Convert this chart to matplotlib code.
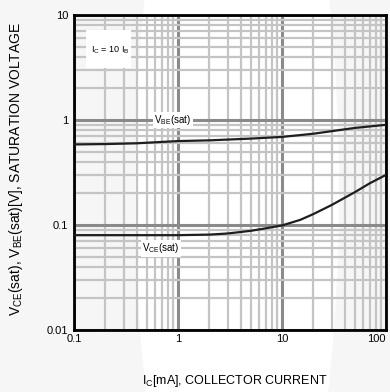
import matplotlib
matplotlib.use("Agg")
import matplotlib.pyplot as plt
from matplotlib.patches import Ellipse, Rectangle
from matplotlib.ticker import LogLocator, NullFormatter, FixedLocator, FixedFormatter

plt.rcParams['font.family'] = ['Liberation Sans', 'DejaVu Sans']
plt.rcParams['mathtext.default'] = 'regular'

# Collector current [mA] and saturation voltages [V]
ic_vbe = [0.1, 0.2, 0.4, 1, 2, 5, 10, 20, 50, 100]
vbe_sat = [0.585, 0.59, 0.60, 0.63, 0.64, 0.665, 0.69, 0.74, 0.84, 0.90]

ic_vce = [0.1, 0.5, 1, 2, 3, 5, 7, 10, 15, 20, 30, 50, 70, 100]
vce_sat = [0.080, 0.080, 0.080, 0.081, 0.083, 0.088, 0.093, 0.099, 0.112,
           0.127, 0.155, 0.205, 0.25, 0.30]

x_ticks = [0.1, 1, 10, 100]
x_labels = ["0.1", "1", "10", "100"]
y_ticks = [0.01, 0.1, 1, 10]
y_labels = ["0.01", "0.1", "1", "10"]

fig = plt.figure(figsize=(3.9, 3.92), dpi=100, facecolor="#f6f6f6")
fig.add_artist(Ellipse((0.6077, 0.5153), 0.523, 2.296, transform=fig.transFigure,
                       facecolor="white", edgecolor="none", zorder=-1))

ax = fig.add_axes([74/390, 1-330/392, 312/390, 315/392])
ax.set_facecolor("none")
ax.set_xscale("log")
ax.set_yscale("log")
ax.set_xlim(0.1, 100)
ax.set_ylim(0.01, 10)

ax.xaxis.set_major_locator(FixedLocator(x_ticks))
ax.xaxis.set_major_formatter(FixedFormatter(x_labels))
ax.yaxis.set_major_locator(FixedLocator(y_ticks))
ax.yaxis.set_major_formatter(FixedFormatter(y_labels))
ax.xaxis.set_minor_locator(LogLocator(base=10, subs=range(2, 10)))
ax.yaxis.set_minor_locator(LogLocator(base=10, subs=range(2, 10)))
ax.xaxis.set_minor_formatter(NullFormatter())
ax.yaxis.set_minor_formatter(NullFormatter())

ax.grid(which="minor", color="#c4c4c4", linewidth=1.6, zorder=0.5)
ax.grid(which="major", color="#8a8a8a", linewidth=2.2, zorder=0.6)
ax.set_axisbelow(True)
ax.tick_params(which="both", length=0)
ax.tick_params(axis="x", pad=3, labelsize=8)
ax.tick_params(axis="y", pad=4, labelsize=8)
for s in ax.spines.values():
    s.set_linewidth(2.0)
    s.set_color("black")

fig.canvas.draw()
ax.get_xticklabels()[-1].set_horizontalalignment("right")

ax.plot(ic_vbe, vbe_sat, color="#1e1e1e", linewidth=1.6, zorder=3)
ax.plot(ic_vce, vce_sat, color="#1e1e1e", linewidth=1.6, zorder=3)

ax.text(0.89, 1.0, r"$V_{BE}$(sat)", fontsize=7, ha="center", va="center", zorder=4,
        bbox=dict(facecolor="white", edgecolor="none", pad=1.0))
ax.text(0.686, 0.06, r"$V_{CE}$(sat)", fontsize=7, ha="center", va="center", zorder=4,
        bbox=dict(facecolor="white", edgecolor="none", pad=1.0))

ax.add_patch(Rectangle((0.038, 0.832), 0.146, 0.121, transform=ax.transAxes,
                       facecolor="white", edgecolor="none", zorder=2))
ax.text(0.117, 0.889, r"$I_C$ = 10 $I_B$", transform=ax.transAxes, fontsize=6.5,
        ha="center", va="center", zorder=4)

ax.set_xlabel(r"$I_C$[mA], COLLECTOR CURRENT", fontsize=9)
ax.xaxis.set_label_coords(0.516, -0.135)
ax.set_ylabel(r"$V_{CE}$(sat), $V_{BE}$(sat)[V], SATURATION VOLTAGE", fontsize=10)
ax.yaxis.set_label_coords(-0.157, 0.51)

fig.savefig("out.png", dpi=100, facecolor=fig.get_facecolor())
